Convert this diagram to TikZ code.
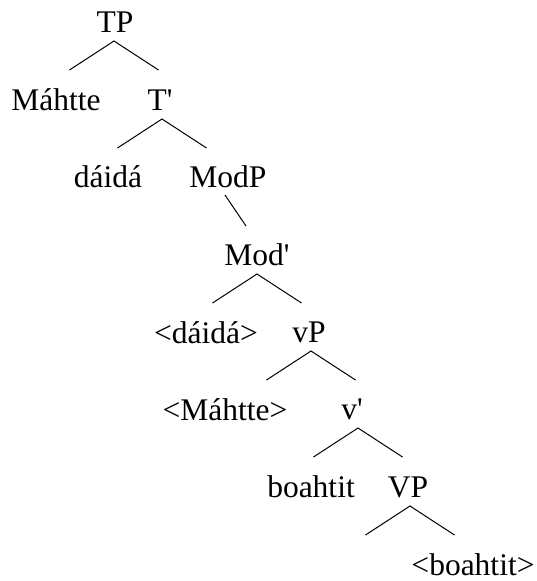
\documentclass[tikz,border=0pt]{standalone}
\usepackage{fontspec}
\setmainfont{Liberation Serif}
\usetikzlibrary{positioning}
\usetikzlibrary{calc}

\begin{document}
\begin{tikzpicture}[x=1pt,y=-1pt,
        cat/.style={anchor=base, inner sep=0pt, font=\fontsize{31.5}{36}\selectfont},
        branch/.style={line width=1pt}]
        \useasboundingbox (0,0) rectangle (536,581);
        \foreach \n/\x/\y/\t in {tp/115/32/TP, mahtte/56/110/Máhtte, tbar/160/110/T\textquotesingle,
            daida/108/187/dáidá, modp/228/187/ModP, modbar/257/265/Mod\textquotesingle,
            tdaida/206/343/<dáidá>, vp/309/342/vP, tmahtte/225/420/<Máhtte>, vbar/352/419/v\textquotesingle,
            boahtit/311/497/boahtit, vpp/408/497/VP, tboahtit/473/575/<boahtit>}
        {
            \node[cat] (\n) at (\x,\y) {\t};
        }
        \foreach \p/\x/\y in {tp/114/41, tbar/162/119, modbar/257/274, vp/311/351, vbar/358/428, vpp/410/506}
        {
            \coordinate (\p-a) at (\x,\y);
            \coordinate (\p-l) at ($(\p-a)+(-44.5,29)$);
            \coordinate (\p-r) at ($(\p-a)+(44.5,29)$);
            \draw[branch] (\p-l) -- (\p-a) -- (\p-r);
        }
        \coordinate (modp-a) at (225,195);
        \coordinate (modbar-t) at (246,226);
        \draw[branch] (modp-a) -- (modbar-t);
    \end{tikzpicture}
\end{document}
